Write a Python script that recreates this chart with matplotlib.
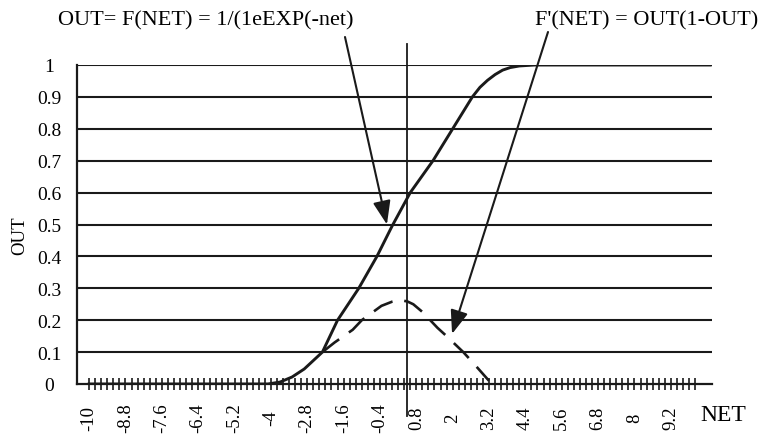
import numpy as np
import matplotlib.pyplot as plt

plt.rcParams['font.family'] = ['Liberation Serif', 'DejaVu Serif']

# OUT = F(NET), solid curve
net_out = [-10, -4.1, -3.7, -3.3, -2.9, -2.3, -1.8, -1.1, -0.5, 0.0, 0.6, 1.35, 2.0, 2.65,
           2.9, 3.15, 3.4, 3.65, 3.9, 4.2, 4.7, 10.5]
out_vals = [0, 0, 0.006, 0.022, 0.047, 0.10, 0.20, 0.30, 0.40, 0.495, 0.60, 0.70, 0.80, 0.90,
            0.93, 0.952, 0.97, 0.984, 0.992, 0.997, 1.0, 1.0]

# F'(NET) = OUT(1-OUT), dashed curve
net_deriv = [-2.3, -1.9, -1.3, -1.0, -0.35, 0.0, 0.25, 0.5, 0.7, 1.0, 1.5, 1.8, 2.35, 2.65, 3.2]
deriv_vals = [0.10, 0.13, 0.17, 0.20, 0.245, 0.258, 0.263, 0.259, 0.25, 0.226, 0.176, 0.15, 0.10, 0.069, 0.01]

x_labels = ['-10', '-8.8', '-7.6', '-6.4', '-5.2', '-4', '-2.8', '-1.6', '-0.4',
            '0.8', '2', '3.2', '4.4', '5.6', '6.8', '8', '9.2']
y_ticks = [0, 0.1, 0.2, 0.3, 0.4, 0.5, 0.6, 0.7, 0.8, 0.9, 1]
y_labels = ['0', '0.1', '0.2', '0.3', '0.4', '0.5', '0.6', '0.7', '0.8', '0.9', '1']

axis_cross = 0.5           # where the vertical line sits
tip_out = (-0.17, 0.50)    # arrow tip on the OUT curve
tip_deriv = (1.98, 0.157)  # arrow tip on the derivative curve

ink = '#1a1a1a'

fig = plt.figure(figsize=(7.62, 4.35), dpi=100)
ax = fig.add_axes([77 / 762, 1 - 385 / 435, (712 - 77) / 762, (385 - 66) / 435])
ax.set_xlim(-10.4, 10.56)
ax.set_ylim(0, 1)

# horizontal grid
for yv in y_ticks[1:]:
    ax.axhline(yv, color=ink, lw=1.5, zorder=1)

# vertical line through the plot
ax.plot([axis_cross, axis_cross], [-0.1, 1.065], color=ink, lw=1.3, clip_on=False, zorder=2)

ax.plot(net_out, out_vals, color=ink, lw=2.1, zorder=3, solid_joinstyle='round')
ax.plot(net_deriv, deriv_vals, color=ink, lw=1.9, dashes=(8, 4.5), zorder=3)

# spines
for s in ['top', 'right']:
    ax.spines[s].set_visible(False)
for s in ['left', 'bottom']:
    ax.spines[s].set_linewidth(1.6)
    ax.spines[s].set_color(ink)

# x ticks: one every 0.2, labels every 1.2
tick_pos = np.round(np.arange(-10, 10.01, 0.2), 1)
ax.set_xticks(tick_pos)
lab = [''] * len(tick_pos)
for i, t in enumerate(x_labels):
    lab[i * 6] = t
ax.set_xticklabels(lab, rotation=90, fontsize=13.5)
ax.tick_params(axis='x', direction='inout', length=8, width=1.2, color=ink, pad=20)
for t in ax.get_xticklabels():
    t.set_verticalalignment('center')

ax.set_yticks(y_ticks)
ax.set_yticklabels(y_labels, fontsize=14)
ax.tick_params(axis='y', length=0, pad=20)
for t in ax.get_yticklabels():
    t.set_horizontalalignment('center')

fig.text(20 / 762, 1 - 236 / 435, 'OUT', rotation=90, fontsize=13.5, ha='center', va='center')
fig.text(723 / 762, 1 - 416 / 435, 'NET', fontsize=17, ha='center', va='center')

fig.text(58 / 762, 1 - 21 / 435, 'OUT= F(NET) = 1/(1eEXP(-net)', fontsize=16, ha='left', va='center')
fig.text(758 / 762, 1 - 21 / 435, "F'(NET) = OUT(1-OUT)", fontsize=16, ha='right', va='center')

arrow = dict(arrowstyle='-|>,head_length=0.8,head_width=0.3', mutation_scale=18,
             lw=1.5, color=ink, shrinkA=0, shrinkB=0)
ax.annotate('', xy=tip_out, xycoords='data', xytext=(345 / 762, 1 - 38 / 435),
            textcoords='figure fraction', arrowprops=arrow)
ax.annotate('', xy=tip_deriv, xycoords='data', xytext=(548 / 762, 1 - 33 / 435),
            textcoords='figure fraction', arrowprops=arrow)

plt.savefig('out.png', dpi=100)
